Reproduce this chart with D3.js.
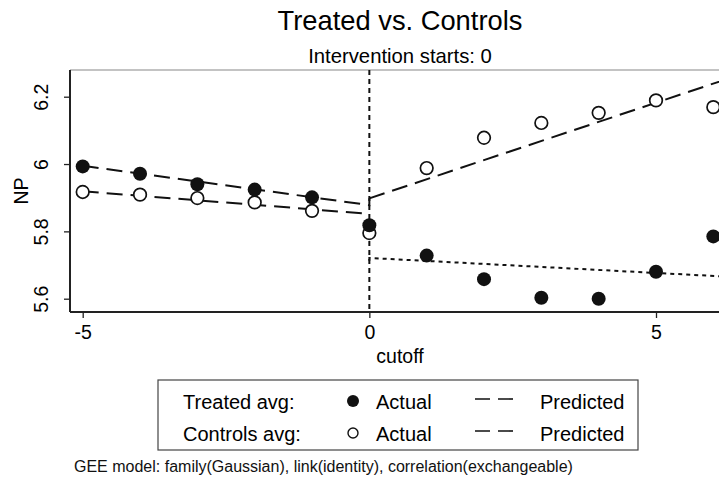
<!DOCTYPE html>
<html>
<head>
<meta charset="utf-8">
<script src="https://cdn.jsdelivr.net/npm/d3@7"></script>
<style>
  html, body { margin: 0; padding: 0; background: #fff; }
  svg { display: block; font-family: "Liberation Sans", Arial, Helvetica, sans-serif; }
</style>
</head>
<body>
<div id="chart"></div>
<script>
// ---- data ----
const cutoff = [-5, -4, -3, -2, -1, 0, 1, 2, 3, 4, 5, 6];
const treatedActual  = [5.993, 5.971, 5.940, 5.924, 5.901, 5.818, 5.728, 5.658, 5.603, 5.600, 5.680, 5.785];
const controlsActual = [5.917, 5.909, 5.899, 5.886, 5.861, 5.795, 5.988, 6.078, 6.122, 6.152, 6.189, 6.169];
// predicted lines (segment endpoints)
const treatedPredPre   = [[-5, 5.995], [0, 5.878], [0, 5.898]];
const controlsPredPre  = [[-5, 5.919], [0, 5.852]];
const controlsPredPost = [[0, 5.898], [6.3, 6.256]];
const treatedPredPost  = [[0, 5.713], [0, 5.721], [6.3, 5.665]];
const xTicks = [-5, 0, 5];
const yTicks = [5.6, 5.8, 6, 6.2];
const interventionAt = 0;
const title = "Treated vs. Controls";
const subtitle = "Intervention starts: 0";
const xLabel = "cutoff";
const yLabel = "NP";
const legendRows = ["Treated avg:", "Controls avg:"];
const note = "GEE model: family(Gaussian), link(identity), correlation(exchangeable)";

// ---- layout ----
const W = 719, H = 481;
const pL = 70, pT = 70, pB = 312, pR = 740;
const x = d3.scaleLinear().domain([-5, 5]).range([82.7, 656]);
const y = d3.scaleLinear().domain([5.6, 6.2]).range([298.7, 96.7]);
const ink = "#000";

const svg = d3.select("#chart").append("svg").attr("width", W).attr("height", H);

// titles
svg.append("text").attr("x", 400).attr("y", 30).attr("text-anchor", "middle")
  .attr("font-size", 27.3).attr("fill", ink).text(title);
svg.append("text").attr("x", 400).attr("y", 63).attr("text-anchor", "middle")
  .attr("font-size", 20.3).attr("fill", ink).text(subtitle);

// plot frame
svg.append("line").attr("x1", pL).attr("x2", pR).attr("y1", pT).attr("y2", pT)
  .attr("stroke", "#888").attr("stroke-width", 1.2);
svg.append("line").attr("x1", pL).attr("x2", pL).attr("y1", pT).attr("y2", pB)
  .attr("stroke", "#222").attr("stroke-width", 2);
svg.append("line").attr("x1", pL).attr("x2", pR).attr("y1", pB).attr("y2", pB)
  .attr("stroke", "#222").attr("stroke-width", 2);

// axes
const xAxis = d3.axisBottom(x).tickValues(xTicks).tickSize(6).tickPadding(7).tickFormat(d3.format("d"));
const gx = svg.append("g").attr("transform", `translate(0,${pB})`).call(xAxis);
gx.select(".domain").remove();
gx.selectAll(".tick line").attr("stroke", "#222").attr("stroke-width", 1.3);
gx.selectAll(".tick text").attr("font-size", 19.5).attr("fill", ink)
  .attr("font-family", "Liberation Sans, Arial, sans-serif")
  .text(d => d < 0 ? "-" + Math.abs(d) : d);

const yAxis = d3.axisLeft(y).tickValues(yTicks).tickSize(6).tickFormat(d => String(+d.toFixed(1)));
const gy = svg.append("g").attr("transform", `translate(${pL},0)`).call(yAxis);
gy.select(".domain").remove();
gy.selectAll(".tick line").attr("stroke", "#222").attr("stroke-width", 1.3);
gy.selectAll(".tick text").attr("font-size", 19.5).attr("fill", ink)
  .attr("font-family", "Liberation Sans, Arial, sans-serif")
  .attr("text-anchor", "middle").attr("dy", null)
  .attr("x", 0).attr("y", 0)
  .attr("transform", "translate(-29,0) rotate(-90)")
  .attr("dominant-baseline", "central");

svg.append("text").attr("x", 400).attr("y", 363).attr("text-anchor", "middle")
  .attr("font-size", 19.5).attr("fill", ink).text(xLabel);
svg.append("text").attr("transform", `translate(28,${(pT + pB) / 2}) rotate(-90)`)
  .attr("text-anchor", "middle").attr("font-size", 19.5).attr("fill", ink).text(yLabel);

// intervention line
svg.append("line").attr("x1", x(interventionAt)).attr("x2", x(interventionAt))
  .attr("y1", pT).attr("y2", pB)
  .attr("stroke", "#111").attr("stroke-width", 2).attr("stroke-dasharray", "5,4");

// predicted lines
const line = d3.line().x(d => x(d[0])).y(d => y(d[1]));
const plot = svg.append("g");
[[treatedPredPre, "16,8"], [controlsPredPre, "16,8"], [controlsPredPost, "16,8"], [treatedPredPost, "4,4"]]
  .forEach(([pts, dash]) => {
    plot.append("path").attr("d", line(pts)).attr("fill", "none")
      .attr("stroke", "#111").attr("stroke-width", 2).attr("stroke-dasharray", dash);
  });

// markers
plot.selectAll("circle.ctrl").data(cutoff).join("circle").attr("class", "ctrl")
  .attr("cx", d => x(d)).attr("cy", (d, i) => y(controlsActual[i])).attr("r", 6.3)
  .attr("fill", "#fff").attr("stroke", "#111").attr("stroke-width", 1.7);
plot.selectAll("circle.trt").data(cutoff).join("circle").attr("class", "trt")
  .attr("cx", d => x(d)).attr("cy", (d, i) => y(treatedActual[i])).attr("r", 7)
  .attr("fill", "#111");

// legend
const lg = svg.append("g");
lg.append("rect").attr("x", 158).attr("y", 380).attr("width", 480).attr("height", 70)
  .attr("fill", "#fff").attr("stroke", "#444").attr("stroke-width", 1.2);
legendRows.forEach((lab, i) => {
  const cy = 402 + i * 32;
  lg.append("text").attr("x", 183).attr("y", cy + 7).attr("font-size", 20).attr("fill", ink).text(lab);
  lg.append("circle").attr("cx", 353).attr("cy", cy - 1).attr("r", i === 0 ? 6 : 5)
    .attr("fill", i === 0 ? "#111" : "#fff").attr("stroke", "#111").attr("stroke-width", i === 0 ? 0 : 1.4);
  lg.append("text").attr("x", 376).attr("y", cy + 7).attr("font-size", 20).attr("fill", ink).text("Actual");
  lg.append("line").attr("x1", 475).attr("x2", 513).attr("y1", cy - 3).attr("y2", cy - 3)
    .attr("stroke", "#111").attr("stroke-width", 1.6).attr("stroke-dasharray", "15,8");
  lg.append("text").attr("x", 540).attr("y", cy + 7).attr("font-size", 20).attr("fill", ink).text("Predicted");
});

svg.append("text").attr("x", 74).attr("y", 472).attr("font-size", 16).attr("fill", "#111").text(note);
</script>
</body>
</html>
